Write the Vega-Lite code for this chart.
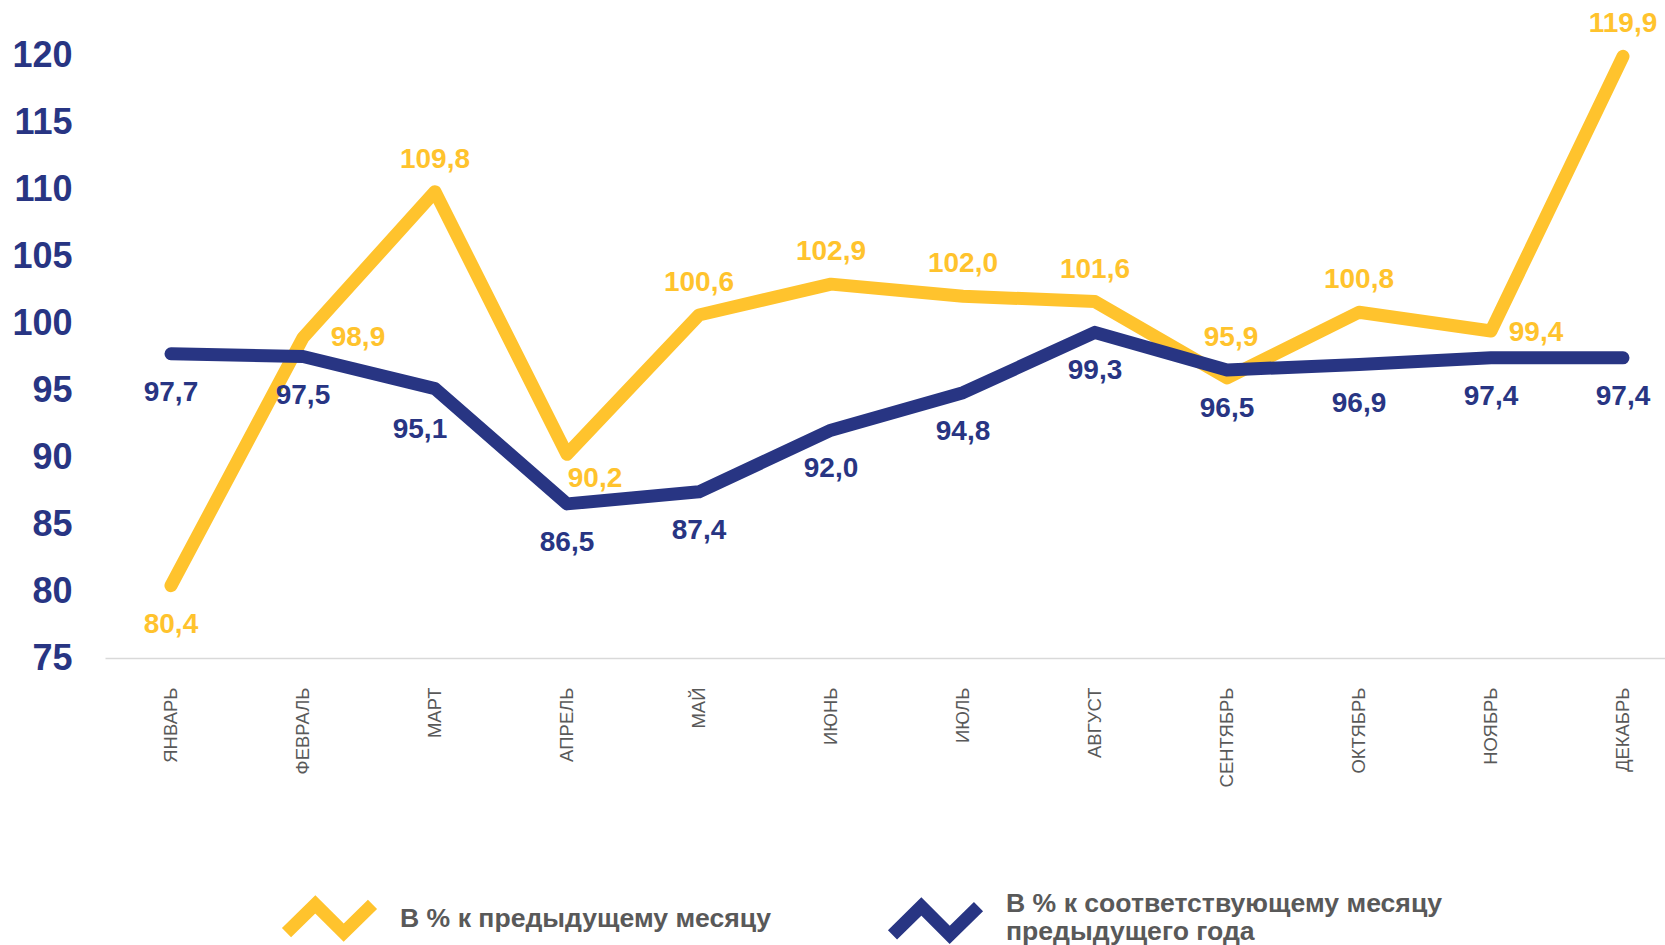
{
  "$schema": "https://vega.github.io/schema/vega-lite/v6.json",
  "width": 1560,
  "height": 603,
  "autosize": {"type": "none"},
  "padding": {"left": 105, "top": 55, "right": 0, "bottom": 287},
  "background": "white",
  "config": {
    "view": {"stroke": null},
    "font": "Liberation Sans",
    "locale": {"number": {"decimal": ",", "thousands": " ", "grouping": [3], "currency": ["", ""]}}
  },
  "data": {"values": [
    {"month": "ЯНВАРЬ", "series": "В % к предыдущему месяцу", "value": 80.4},
    {"month": "ФЕВРАЛЬ", "series": "В % к предыдущему месяцу", "value": 98.9},
    {"month": "МАРТ", "series": "В % к предыдущему месяцу", "value": 109.8},
    {"month": "АПРЕЛЬ", "series": "В % к предыдущему месяцу", "value": 90.2},
    {"month": "МАЙ", "series": "В % к предыдущему месяцу", "value": 100.6},
    {"month": "ИЮНЬ", "series": "В % к предыдущему месяцу", "value": 102.9},
    {"month": "ИЮЛЬ", "series": "В % к предыдущему месяцу", "value": 102.0},
    {"month": "АВГУСТ", "series": "В % к предыдущему месяцу", "value": 101.6},
    {"month": "СЕНТЯБРЬ", "series": "В % к предыдущему месяцу", "value": 95.9},
    {"month": "ОКТЯБРЬ", "series": "В % к предыдущему месяцу", "value": 100.8},
    {"month": "НОЯБРЬ", "series": "В % к предыдущему месяцу", "value": 99.4},
    {"month": "ДЕКАБРЬ", "series": "В % к предыдущему месяцу", "value": 119.9},
    {"month": "ЯНВАРЬ", "series": "В % к соответствующему месяцу предыдущего года", "value": 97.7},
    {"month": "ФЕВРАЛЬ", "series": "В % к соответствующему месяцу предыдущего года", "value": 97.5},
    {"month": "МАРТ", "series": "В % к соответствующему месяцу предыдущего года", "value": 95.1},
    {"month": "АПРЕЛЬ", "series": "В % к соответствующему месяцу предыдущего года", "value": 86.5},
    {"month": "МАЙ", "series": "В % к соответствующему месяцу предыдущего года", "value": 87.4},
    {"month": "ИЮНЬ", "series": "В % к соответствующему месяцу предыдущего года", "value": 92.0},
    {"month": "ИЮЛЬ", "series": "В % к соответствующему месяцу предыдущего года", "value": 94.8},
    {"month": "АВГУСТ", "series": "В % к соответствующему месяцу предыдущего года", "value": 99.3},
    {"month": "СЕНТЯБРЬ", "series": "В % к соответствующему месяцу предыдущего года", "value": 96.5},
    {"month": "ОКТЯБРЬ", "series": "В % к соответствующему месяцу предыдущего года", "value": 96.9},
    {"month": "НОЯБРЬ", "series": "В % к соответствующему месяцу предыдущего года", "value": 97.4},
    {"month": "ДЕКАБРЬ", "series": "В % к соответствующему месяцу предыдущего года", "value": 97.4}
  ]},
  "encoding": {
    "x": {
      "field": "month", "type": "nominal",
      "sort": ["ЯНВАРЬ", "ФЕВРАЛЬ", "МАРТ", "АПРЕЛЬ", "МАЙ", "ИЮНЬ", "ИЮЛЬ", "АВГУСТ", "СЕНТЯБРЬ", "ОКТЯБРЬ", "НОЯБРЬ", "ДЕКАБРЬ"],
      "scale": {"type": "point", "padding": 0.409, "align": 0.611},
      "axis": {"title": null, "labelAngle": -90, "labelFontSize": 18.5, "labelColor": "#595959", "labelPadding": 29, "ticks": false, "domainColor": "#d9d9d9", "domainWidth": 1.5, "grid": false}
    },
    "y": {
      "field": "value", "type": "quantitative",
      "scale": {"domain": [75, 120], "nice": false, "zero": false},
      "axis": {"title": null, "values": [75, 80, 85, 90, 95, 100, 105, 110, 115, 120], "labelFontSize": 36, "labelFontWeight": "bold", "labelColor": "#283583", "labelPadding": 33, "ticks": false, "domain": false, "grid": false}
    }
  },
  "layer": [
    {
      "transform": [{"filter": {"field": "series", "equal": "В % к предыдущему месяцу"}}],
      "mark": {"type": "line", "strokeWidth": 13, "strokeCap": "round", "strokeJoin": "round"},
      "encoding": {
        "color": {
          "field": "series", "type": "nominal",
          "scale": {"domain": ["В % к предыдущему месяцу"], "range": ["#FFC32D"]},
          "legend": {
            "title": null, "orient": "none", "direction": "horizontal",
            "legendX": 175, "legendY": 814, "padding": 0,
            "symbolType": "M-1,0.33L-0.33,-0.33L0.33,0.33L1,-0.33",
            "symbolSize": 7396, "symbolStrokeWidth": 13, "symbolFillColor": "transparent",
            "labelFontSize": 26.6, "labelFontWeight": "bold", "labelColor": "#595959", "labelOffset": 21, "labelLimit": 1000
          }
        }
      }
    },
    {
      "transform": [{"filter": {"field": "series", "equal": "В % к соответствующему месяцу предыдущего года"}}],
      "mark": {"type": "line", "strokeWidth": 13, "strokeCap": "round", "strokeJoin": "round"},
      "encoding": {
        "stroke": {
          "field": "series", "type": "nominal",
          "scale": {"domain": ["В % к соответствующему месяцу предыдущего года"], "range": ["#283583"]},
          "legend": {
            "title": null, "orient": "none", "direction": "horizontal",
            "legendX": 781, "legendY": 799, "padding": 0,
            "symbolType": "M-1,0.73L-0.33,0.07L0.33,0.73L1,0.07",
            "symbolSize": 7396, "symbolStrokeWidth": 13, "symbolFillColor": "transparent",
            "labelFontSize": 26.6, "labelFontWeight": "bold", "labelColor": "#595959", "labelOffset": 21, "labelLimit": 1000,
            "labelExpr": "['В % к соответствующему месяцу', 'предыдущего года']"
          }
        }
      }
    },
    {
      "transform": [{"filter": {"and": [{"field": "series", "equal": "В % к предыдущему месяцу"}, {"field": "month", "oneOf": ["МАРТ", "МАЙ", "ИЮНЬ", "ИЮЛЬ", "АВГУСТ", "ОКТЯБРЬ", "ДЕКАБРЬ"]}]}}],
      "mark": {"type": "text", "dy": -32, "fontSize": 28, "fontWeight": "bold", "fill": "#FFC32D"},
      "encoding": {"text": {"field": "value", "type": "quantitative", "format": ".1f"}}
    },
    {
      "transform": [{"filter": {"and": [{"field": "series", "equal": "В % к предыдущему месяцу"}, {"field": "month", "oneOf": ["СЕНТЯБРЬ"]}]}}],
      "mark": {"type": "text", "dy": -40, "dx": 4, "fontSize": 28, "fontWeight": "bold", "fill": "#FFC32D"},
      "encoding": {"text": {"field": "value", "type": "quantitative", "format": ".1f"}}
    },
    {
      "transform": [{"filter": {"and": [{"field": "series", "equal": "В % к предыдущему месяцу"}, {"field": "month", "oneOf": ["ЯНВАРЬ"]}]}}],
      "mark": {"type": "text", "dy": 39, "fontSize": 28, "fontWeight": "bold", "fill": "#FFC32D"},
      "encoding": {"text": {"field": "value", "type": "quantitative", "format": ".1f"}}
    },
    {
      "transform": [{"filter": {"and": [{"field": "series", "equal": "В % к предыдущему месяцу"}, {"field": "month", "oneOf": ["ФЕВРАЛЬ"]}]}}],
      "mark": {"type": "text", "dx": 55, "dy": 0, "fontSize": 28, "fontWeight": "bold", "fill": "#FFC32D"},
      "encoding": {"text": {"field": "value", "type": "quantitative", "format": ".1f"}}
    },
    {
      "transform": [{"filter": {"and": [{"field": "series", "equal": "В % к предыдущему месяцу"}, {"field": "month", "oneOf": ["АПРЕЛЬ"]}]}}],
      "mark": {"type": "text", "dx": 28, "dy": 25, "fontSize": 28, "fontWeight": "bold", "fill": "#FFC32D"},
      "encoding": {"text": {"field": "value", "type": "quantitative", "format": ".1f"}}
    },
    {
      "transform": [{"filter": {"and": [{"field": "series", "equal": "В % к предыдущему месяцу"}, {"field": "month", "oneOf": ["НОЯБРЬ"]}]}}],
      "mark": {"type": "text", "dx": 45, "dy": 2, "fontSize": 28, "fontWeight": "bold", "fill": "#FFC32D"},
      "encoding": {"text": {"field": "value", "type": "quantitative", "format": ".1f"}}
    },
    {
      "transform": [{"filter": {"and": [{"field": "series", "equal": "В % к соответствующему месяцу предыдущего года"}, {"field": "month", "oneOf": ["ЯНВАРЬ", "ФЕВРАЛЬ", "АПРЕЛЬ", "МАЙ", "ИЮНЬ", "ИЮЛЬ"]}]}}],
      "mark": {"type": "text", "dy": 39, "fontSize": 28, "fontWeight": "bold", "fill": "#283583"},
      "encoding": {"text": {"field": "value", "type": "quantitative", "format": ".1f"}}
    },
    {
      "transform": [{"filter": {"and": [{"field": "series", "equal": "В % к соответствующему месяцу предыдущего года"}, {"field": "month", "oneOf": ["МАРТ"]}]}}],
      "mark": {"type": "text", "dx": -15, "dy": 41, "fontSize": 28, "fontWeight": "bold", "fill": "#283583"},
      "encoding": {"text": {"field": "value", "type": "quantitative", "format": ".1f"}}
    },
    {
      "transform": [{"filter": {"and": [{"field": "series", "equal": "В % к соответствующему месяцу предыдущего года"}, {"field": "month", "oneOf": ["АВГУСТ", "СЕНТЯБРЬ", "ОКТЯБРЬ", "НОЯБРЬ", "ДЕКАБРЬ"]}]}}],
      "mark": {"type": "text", "dy": 39, "fontSize": 28, "fontWeight": "bold", "fill": "#283583"},
      "encoding": {"text": {"field": "value", "type": "quantitative", "format": ".1f"}}
    }
  ]
}
